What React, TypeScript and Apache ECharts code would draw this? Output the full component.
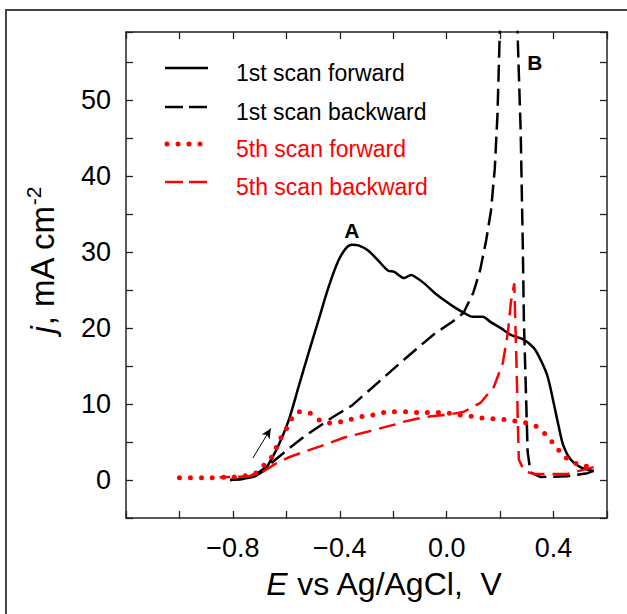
import React, { useEffect, useRef } from "react";
import * as echarts from "echarts";

const FONT = '"Liberation Sans", Arial, Helvetica, sans-serif';

// Potential window (V vs Ag/AgCl) and current-density window (mA cm^-2)
const E_MIN = -1.2;
const E_MAX = 0.6;
const E_STEP = 0.2;
const J_MIN = -5;
const J_MAX = 59;
const J_STEP = 5;
const E_LABELS = [-0.8, -0.4, 0.0, 0.4];
const J_LABELS = [0, 10, 20, 30, 40, 50];

// Series names
const SERIES_NAMES = [
  "1st scan forward",
  "1st scan backward",
  "5th scan forward",
  "5th scan backward",
];

// 1st cycle, anodic (forward) sweep: [E, j]
const firstForward: [number, number][] = [
  [-0.81, 0.0], [-0.76, 0.2], [-0.718, 0.5], [-0.68, 1.4], [-0.655, 2.8],
  [-0.63, 4.5], [-0.59, 8.0], [-0.554, 12.3], [-0.517, 16.7], [-0.48, 21.0],
  [-0.442, 25.4], [-0.405, 28.9], [-0.375, 30.6], [-0.355, 31.0], [-0.33, 30.9],
  [-0.293, 30.2], [-0.256, 28.9], [-0.22, 27.6], [-0.196, 27.4], [-0.159, 26.6],
  [-0.133, 27.0], [-0.12, 26.8], [-0.084, 25.9], [-0.047, 24.7], [-0.01, 23.7],
  [0.027, 22.8], [0.065, 22.0], [0.098, 21.5], [0.135, 21.5], [0.165, 20.8],
  [0.203, 20.0], [0.24, 19.1], [0.288, 18.5], [0.326, 17.4], [0.352, 15.8],
  [0.378, 13.6], [0.4, 10.2], [0.419, 7.1], [0.437, 4.5], [0.464, 2.7],
  [0.5, 1.7], [0.55, 1.2],
];

// 1st cycle, cathodic (backward) sweep: [E, j]
const firstBackward: [number, number][] = [
  [0.55, 1.2], [0.527, 0.9], [0.452, 0.5], [0.352, 0.4], [0.314, 1.0],
  [0.303, 3.7], [0.296, 12.3], [0.289, 21.0], [0.285, 30.6], [0.277, 45.9],
  [0.266, 58.1], [0.258, 68.0], [0.232, 82.0], [0.208, 68.0], [0.199, 59.2],
  [0.19, 48.0], [0.18, 41.0], [0.166, 35.5], [0.148, 31.6], [0.125, 27.6],
  [0.1, 24.7], [0.063, 22.0], [0.02, 20.8], [-0.044, 19.3], [-0.105, 17.5],
  [-0.168, 15.6], [-0.255, 12.9], [-0.355, 9.8], [-0.43, 8.2], [-0.53, 5.8],
  [-0.592, 4.1], [-0.654, 2.3], [-0.704, 1.0], [-0.766, 0.1], [-0.81, 0.0],
];

// 5th cycle, forward sweep: [E, j]
const fifthForward: [number, number][] = [
  [-1.0, 0.3], [-0.9, 0.3], [-0.8, 0.4], [-0.766, 0.5], [-0.72, 0.8],
  [-0.68, 2.1], [-0.647, 3.4], [-0.63, 5.0], [-0.606, 6.3], [-0.587, 7.7],
  [-0.554, 9.0], [-0.517, 8.9], [-0.476, 7.9], [-0.44, 7.5], [-0.394, 7.7],
  [-0.356, 8.0], [-0.312, 8.4], [-0.27, 8.6], [-0.233, 8.9], [-0.196, 9.0],
  [-0.15, 9.0], [-0.107, 8.9], [-0.077, 8.9], [-0.032, 8.9], [0.009, 8.8],
  [0.046, 8.6], [0.091, 8.4], [0.128, 8.2], [0.165, 8.1], [0.21, 8.0],
  [0.25, 7.8], [0.288, 7.6], [0.333, 7.1], [0.37, 6.0], [0.404, 4.6],
  [0.441, 3.1], [0.482, 2.2], [0.52, 1.8], [0.55, 1.8],
];

// 5th cycle, backward sweep: [E, j]
const fifthBackward: [number, number][] = [
  [0.55, 1.7], [0.452, 0.8], [0.326, 0.8], [0.29, 1.2], [0.27, 2.7],
  [0.266, 8.0], [0.262, 14.5], [0.258, 19.4], [0.253, 25.9], [0.24, 23.3],
  [0.229, 19.4], [0.21, 15.4], [0.177, 12.3], [0.128, 10.2], [0.065, 9.0],
  [0.005, 8.6], [-0.058, 8.4], [-0.12, 8.0], [-0.17, 7.6], [-0.196, 7.3],
  [-0.293, 6.4], [-0.383, 5.6], [-0.468, 4.5], [-0.543, 3.6], [-0.59, 3.0],
  [-0.643, 2.1], [-0.692, 1.0], [-0.74, 0.5], [-0.8, 0.4], [-0.85, 0.35],
];

// Peak markers and sweep-direction arrow, in data units
const PEAK_LABELS = ["A", "B"];
const PEAK_POSITIONS: [number, number][] = [
  [-0.355, 32.8],
  [0.33, 55.0],
];
const ARROW_FROM: [number, number] = [-0.725, 2.9];
const ARROW_TO: [number, number] = [-0.658, 6.8];

const near = (v: number, list: number[]) =>
  list.some((t) => Math.abs(t - v) < 1e-6);

const fmtE = (v: number) => {
  if (!near(v, E_LABELS)) return "";
  const s = Math.abs(v).toFixed(1);
  return v < -1e-9 ? "\u2212" + s : s;
};
const fmtJ = (v: number) => (near(v, J_LABELS) ? String(Math.round(v)) : "");

const AXIS_LINE = { show: true, onZero: false, lineStyle: { color: "#222", width: 1.5 } };
const AXIS_TICK = {
  show: true,
  inside: true,
  length: 7,
  lineStyle: { color: "#222", width: 1.3 },
};

export default function App() {
  const ref = useRef<HTMLDivElement>(null);

  useEffect(() => {
    if (!ref.current) return;
    const chart = echarts.init(ref.current, null, { renderer: "svg" });

    const legendRows = [
      { y: 68, color: "#000", dash: null as number[] | null, width: 2.5, cap: "butt" },
      { y: 107, color: "#000", dash: [18, 6], width: 2.5, cap: "butt" },
      { y: 144, color: "#ff0000", dash: [0, 11], width: 5, cap: "round" },
      { y: 182, color: "#ff0000", dash: [18, 6], width: 2.5, cap: "butt" },
    ];

    const legendGraphics: any[] = [];
    legendRows.forEach((row, i) => {
      legendGraphics.push({
        type: "line",
        shape: { x1: i === 2 ? 167 : 165, y1: row.y, x2: i === 2 ? 202 : 208, y2: row.y },
        style: {
          stroke: row.color,
          lineWidth: row.width,
          lineDash: row.dash || undefined,
          lineCap: row.cap,
        },
        z: 10,
      });
      legendGraphics.push({
        type: "text",
        x: 236,
        y: row.y + 5,
        style: {
          text: SERIES_NAMES[i],
          fill: row.color,
          font: `23px ${FONT}`,
          align: "left",
          verticalAlign: "middle",
        },
        z: 10,
      });
    });

    chart.setOption({
      animation: false,
      backgroundColor: "#fff",
      grid: { left: 126, right: 20, top: 32, bottom: 96, containLabel: false },
      xAxis: [
        {
          type: "value",
          position: "bottom",
          min: E_MIN,
          max: E_MAX,
          interval: E_STEP,
          axisLine: AXIS_LINE,
          axisTick: AXIS_TICK,
          splitLine: { show: false },
          axisLabel: {
            formatter: fmtE,
            interval: 0,
            margin: 16,
            fontSize: 27,
            fontFamily: FONT,
            color: "#000",
          },
          name: "{i|E}{n| vs Ag/AgCl,\u00a0\u00a0V}",
          nameLocation: "middle",
          nameGap: 50,
          nameTextStyle: {
            fontSize: 32,
            fontFamily: FONT,
            color: "#000",
            padding: [0, 0, 0, 36],
            rich: {
              i: { fontStyle: "italic", fontSize: 32, fontFamily: FONT, color: "#000" },
              n: { fontSize: 32, fontFamily: FONT, color: "#000" },
            },
          },
        },
        {
          type: "value",
          position: "top",
          min: E_MIN,
          max: E_MAX,
          interval: E_STEP,
          axisLine: AXIS_LINE,
          axisTick: AXIS_TICK,
          axisLabel: { show: false },
          splitLine: { show: false },
        },
      ],
      yAxis: [
        {
          type: "value",
          position: "left",
          min: J_MIN,
          max: J_MAX,
          interval: J_STEP,
          axisLine: AXIS_LINE,
          axisTick: AXIS_TICK,
          splitLine: { show: false },
          axisLabel: {
            formatter: fmtJ,
            interval: 0,
            margin: 15,
            fontSize: 27,
            fontFamily: FONT,
            color: "#000",
          },
        },
        {
          type: "value",
          position: "right",
          min: J_MIN,
          max: J_MAX,
          interval: J_STEP,
          axisLine: AXIS_LINE,
          axisTick: AXIS_TICK,
          axisLabel: { show: false },
          splitLine: { show: false },
        },
      ],
      graphic: [
        {
          type: "rect",
          shape: { x: 6, y: 10, width: 700, height: 700 },
          style: { fill: "none", stroke: "#444", lineWidth: 2 },
          z: 0,
        },
        {
          type: "text",
          x: 42,
          y: 260,
          rotation: Math.PI / 2,
          style: {
            text: "{i|j}{n|, mA cm}{s|-2}",
            align: "center",
            verticalAlign: "middle",
            rich: {
              i: { fontStyle: "italic", fontSize: 33, fontFamily: FONT, fill: "#000", lineHeight: 38 },
              n: { fontSize: 33, fontFamily: FONT, fill: "#000", lineHeight: 38 },
              s: { fontSize: 21, fontFamily: FONT, fill: "#000", verticalAlign: "top", lineHeight: 38 },
            },
          },
          z: 10,
        },
        ...legendGraphics,
      ],
      series: [
        {
          name: SERIES_NAMES[0],
          type: "line",
          data: firstForward,
          showSymbol: false,
          smooth: 0.3,
          lineStyle: { color: "#000", width: 2.5 },
          z: 2,
          markLine: {
            silent: true,
            symbol: ["none", "arrow"],
            symbolSize: [7, 10],
            label: { show: false },
            lineStyle: { color: "#000", width: 1, type: "solid" },
            data: [[{ coord: ARROW_FROM }, { coord: ARROW_TO }]],
          },
          markPoint: {
            silent: true,
            symbol: "circle",
            symbolSize: 0,
            data: PEAK_POSITIONS.map((p, i) => ({
              coord: p,
              label: {
                show: true,
                formatter: PEAK_LABELS[i],
                position: "inside",
                fontSize: 21,
                fontWeight: "bold",
                fontFamily: FONT,
                color: "#000",
              },
            })),
          },
        },
        {
          name: SERIES_NAMES[1],
          type: "line",
          data: firstBackward,
          showSymbol: false,
          lineStyle: { color: "#000", width: 2.5, type: [17, 7] },
          z: 2,
        },
        {
          name: SERIES_NAMES[2],
          type: "line",
          data: fifthForward,
          showSymbol: false,
          smooth: 0.3,
          lineStyle: { color: "#ff0000", width: 5, type: [0, 11], cap: "round" },
          z: 3,
        },
        {
          name: SERIES_NAMES[3],
          type: "line",
          data: fifthBackward,
          showSymbol: false,
          lineStyle: { color: "#ff0000", width: 2.5, type: [17, 8] },
          z: 3,
        },
      ],
    });

    return () => chart.dispose();
  }, []);

  return (
    <div
      ref={ref}
      style={{
        position: "fixed",
        left: 0,
        top: 0,
        width: 627,
        height: 614,
        background: "#fff",
      }}
    />
  );
}
